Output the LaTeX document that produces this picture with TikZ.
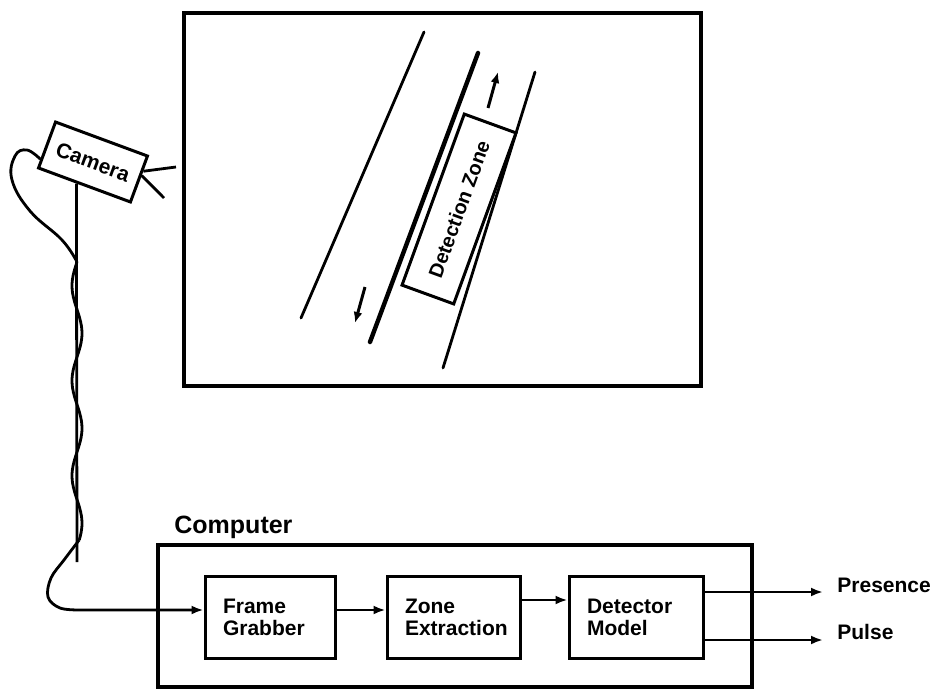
\documentclass[tikz,border=0pt]{standalone}
\usepackage{fontspec}
\setmainfont{Liberation Sans}
\usetikzlibrary{arrows.meta,calc}
\begin{document}
\begin{tikzpicture}[x=1pt,y=-1pt,
  line width=2.8pt,
  arr/.style={-{Latex[length=12pt,width=9pt]}},
  lbl/.style={font=\fontsize{21}{22}\selectfont\bfseries},
  block/.style={draw, line width=3pt, minimum height=82pt, inner xsep=18pt, inner ysep=0pt,
     align=left, font=\fontsize{21}{22}\selectfont\bfseries}]
\useasboundingbox (0,0) rectangle (937,690);

% monitor
\draw[line width=3.6pt] (184,13) rectangle (701,386);
% road lines
\draw[line width=2.8pt, line cap=round] (424,32) -- (301,318);
\draw[line width=4.4pt, line cap=round] (478,53) -- (370,342);
\draw[line width=2.8pt, line cap=round] (535,72) -- (443,368);
\draw[line width=3pt, -{Latex[length=11pt,width=9pt]}] (488,108) -- (498,72);
\draw[line width=3pt, -{Latex[length=11pt,width=9pt]}] (365,287) -- (355,323);
\node[draw, line width=3pt, rotate=70, minimum width=182pt, minimum height=55pt, inner sep=0pt,
  font=\fontsize{20}{22}\selectfont\bfseries, fill=white] (dz) at (459,209) {Detection Zone};

% camera
\node[draw, line width=3pt, rotate=-20.3, minimum width=98pt, minimum height=49pt, inner sep=0pt,
  lbl] (cam) at (93,162) {Camera};
\coordinate (lens) at ($(cam.north east)!0.33!(cam.south east)$);
\coordinate (lens2) at ($(cam.north east)!0.42!(cam.south east)$);
\coordinate (l1) at (176,167);
\coordinate (l2) at (164,198);
\draw (lens) -- (l1);
\draw (lens2) -- (l2);
\coordinate (poletop) at ($(cam.south west)!0.42!(cam.south east)$);
\coordinate (polebot) at (77,562);
\draw (poletop) -- (polebot);

% computer
\draw[line width=3.2pt] (158,545) rectangle (752,687);
\node[font=\fontsize{25}{26}\selectfont\bfseries, anchor=base west, inner sep=0pt] (comp) at (173,533) {Computer};

\node[block, minimum width=130pt, text width=94pt] (fg) at (270,617.5) {Frame\\Grabber};
\node[block, minimum width=133pt, text width=97pt] (ze) at (453.5,617) {Zone\\Extraction};
\node[block, minimum width=134pt, text width=98pt] (dm) at (636,617) {Detector\\Model};

% cable
\coordinate (cstart) at ($(cam.north west)!0.8!(cam.south west)$);
\draw plot[smooth, tension=0.7] coordinates {(cstart) (27,150) (15,156) (12,180) (30,211) (62,240) (77,262)};
\draw plot[smooth, domain=0:278, samples=80, variable=\t] ({77-5*sin(\t*3.7895)}, {\t+262});
\draw[arr] plot[smooth, tension=0.6] coordinates {(79.2,540) (64,560) (51,578) (48,597) (60,608) (80,610)} -- ([yshift=7.5pt]fg.west);

\draw[arr] ([yshift=7.5pt]fg.east) -- ([yshift=7.5pt]fg.east -| ze.west);
\draw[arr] ([yshift=17pt]ze.east) -- ([yshift=17pt]ze.east -| dm.west);

\coordinate (ptip) at (823,592);
\coordinate (qtip) at (823,640);
\draw[arr] (dm.east |- ptip) -- (ptip);
\draw[arr] (dm.east |- qtip) -- (qtip);
\node[lbl, anchor=west, inner sep=0pt] (pres) at (836,585) {Presence};
\node[lbl, anchor=west, inner sep=0pt] (pulse) at (836,632) {Pulse};
\end{tikzpicture}
\end{document}
